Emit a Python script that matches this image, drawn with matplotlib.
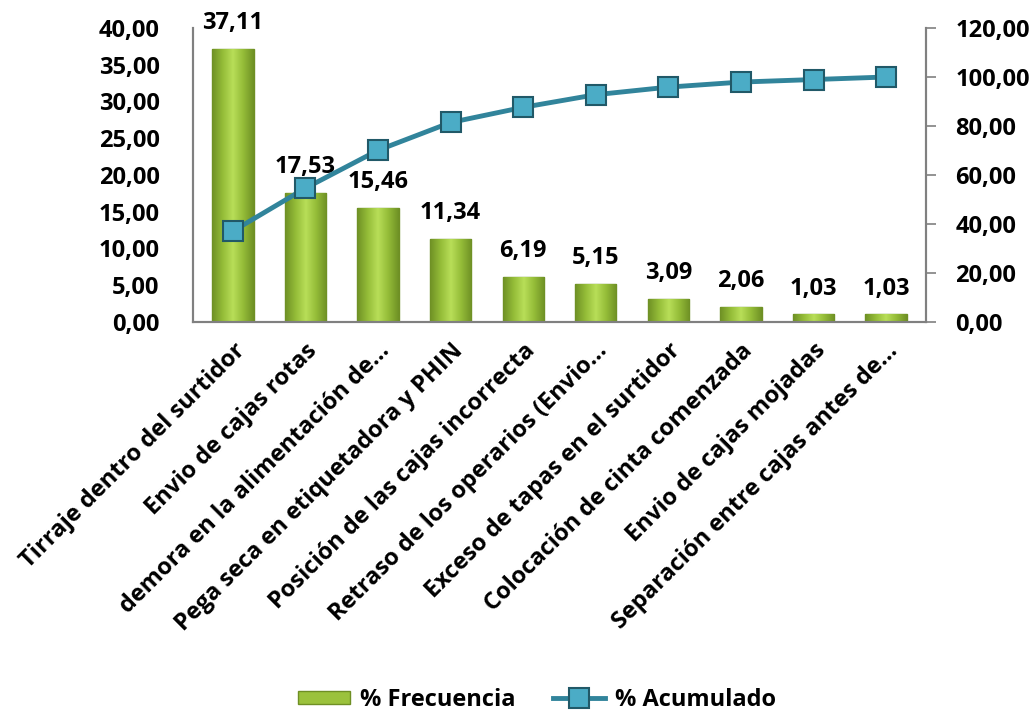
import matplotlib
matplotlib.use('Agg')
import matplotlib.pyplot as plt
import numpy as np
from matplotlib.ticker import FuncFormatter

causas = ['Tirraje dentro del surtidor', 'Envio de cajas rotas',
          'demora en la alimentación de…', 'Pega seca en etiquetadora y PHIN',
          'Posición de las cajas incorrecta', 'Retraso de los operarios (Envio…',
          'Exceso de tapas en el surtidor', 'Colocación de cinta comenzada',
          'Envio de cajas mojadas', 'Separación entre cajas antes de…']
frecuencia = [37.11, 17.53, 15.46, 11.34, 6.19, 5.15, 3.09, 2.06, 1.03, 1.03]
acumulado = [37.11, 54.64, 70.10, 81.44, 87.63, 92.78, 95.87, 97.93, 98.96, 100.00]

plt.rcParams['font.family'] = ['Open Sans', 'DejaVu Sans']
plt.rcParams['font.weight'] = 'bold'

coma = FuncFormatter(lambda v, p: '{:.2f}'.format(v).replace('.', ','))

fig = plt.figure(figsize=(10.35, 7.17), dpi=100)
ax = fig.add_axes([193 / 1035, 1 - 322 / 717, (926 - 193) / 1035, (322 - 28) / 717])
ax2 = ax.twinx()

x = np.arange(len(causas))
bars = ax.bar(x, frecuencia, width=0.57, color='#9bc23c', edgecolor='#6f8f24',
              linewidth=1.0, zorder=2, label='% Frecuencia')

# gradiente horizontal dentro de cada barra
grad = np.abs(np.linspace(-1, 1, 64))[None, :]
cmap = matplotlib.colors.LinearSegmentedColormap.from_list('verde', ['#b8de58', '#94bc38', '#6f9125'])
for b in bars:
    x0, y0, w, h = b.get_x(), b.get_y(), b.get_width(), b.get_height()
    im = ax.imshow(grad, cmap=cmap, extent=[x0, x0 + w, y0, y0 + h],
                   aspect='auto', zorder=2.1, vmin=0, vmax=1)
    im.set_clip_path(b)

for xi, v in zip(x, frecuencia):
    ax.annotate('{:.2f}'.format(v).replace('.', ','), (xi, v), xytext=(0, 10),
                textcoords='offset points', ha='center', va='bottom',
                fontsize=17, fontweight='bold', color='black')

ax2.plot(x, acumulado, color='#31849b', linewidth=3.5, marker='s', markersize=15,
         markerfacecolor='#4bacc6', markeredgecolor='#215968', markeredgewidth=1.5,
         zorder=5, label='% Acumulado')

ax.set_xlim(-0.55, len(causas) - 0.45)
ax.set_ylim(0, 40)
ax.set_yticks(np.arange(0, 41, 5))
ax2.set_ylim(0, 120)
ax2.set_yticks(np.arange(0, 121, 20))
ax.yaxis.set_major_formatter(coma)
ax2.yaxis.set_major_formatter(coma)

ax.set_xticks(x)
ax.set_xticklabels(causas, rotation=45, ha='right', rotation_mode='anchor',
                   fontsize=17, fontweight='bold')
ax.tick_params(axis='x', length=0, pad=12)
ax.tick_params(axis='y', length=0, labelsize=17, pad=24)
ax2.tick_params(axis='y', length=7, width=1.2, color='#808080', labelsize=17, pad=14)

for a in (ax, ax2):
    a.spines['top'].set_visible(False)
    for s in ('left', 'right', 'bottom'):
        a.spines[s].set_color('#808080')
        a.spines[s].set_linewidth(1.5)
ax.set_zorder(ax2.get_zorder() - 1)
ax.patch.set_visible(False)
ax2.patch.set_visible(False)

h1, l1 = ax.get_legend_handles_labels()
h2, l2 = ax2.get_legend_handles_labels()
fig.legend(h1 + h2, l1 + l2, loc='center', bbox_to_anchor=(537 / 1035, 1 - 700 / 717),
           ncol=2, frameon=False, handlelength=2.2, handleheight=0.5, handletextpad=0.4,
           columnspacing=1.6, prop={'weight': 'bold', 'size': 17})

fig.savefig('out.png', dpi=100)
